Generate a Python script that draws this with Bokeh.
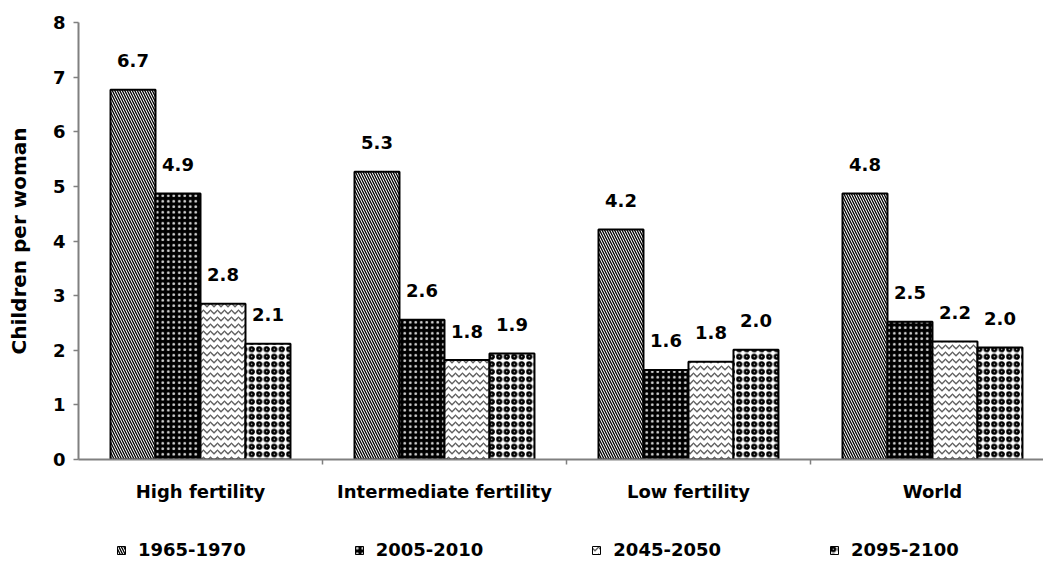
from bokeh.plotting import figure
from bokeh.layouts import column
from bokeh.models import ColumnDataSource, Range1d, FixedTicker, Legend, LegendItem
from bokeh.transform import dodge
from bokeh.core.properties import value
from bokeh.embed import file_html
from bokeh.resources import INLINE

categories = ["High fertility", "Intermediate fertility", "Low fertility", "World"]
periods = ["1965-1970", "2005-2010", "2045-2050", "2095-2100"]
v1965 = [6.77, 5.27, 4.21, 4.87]
v2005 = [4.87, 2.56, 1.64, 2.52]
v2045 = [2.85, 1.82, 1.79, 2.16]
v2095 = [2.12, 1.94, 2.01, 2.05]
lab1965 = ["6.7", "5.3", "4.2", "4.8"]
lab2005 = ["4.9", "2.6", "1.6", "2.5"]
lab2045 = ["2.8", "1.8", "1.8", "2.2"]
lab2095 = ["2.1", "1.9", "2.0", "2.0"]
y_ticks = [0, 1, 2, 3, 4, 5, 6, 7, 8]

FONT = "DejaVu Sans"
GRAY = "#808080"

xs = list(range(len(categories)))
source = ColumnDataSource(dict(
    x=xs, v1965=v1965, v2005=v2005, v2045=v2045, v2095=v2095,
    l1965=lab1965, l2005=lab2005, l2045=lab2045, l2095=lab2095,
))

p = figure(width=1043, height=525, output_backend="svg", toolbar_location=None,
           x_range=Range1d(-0.5, 3.455), y_range=Range1d(0, 8),
           min_border_left=78, min_border_right=0, min_border_top=22, min_border_bottom=66)
p.outline_line_color = None
p.xgrid.visible = False
p.ygrid.visible = False
p.background_fill_color = "white"

bw = 0.1844
offsets = [-1.5 * bw, -0.5 * bw, 0.5 * bw, 1.5 * bw]
styles = [
    dict(fill_color="white", hatch_pattern="left_diagonal_line", hatch_color="black", hatch_scale=5, hatch_weight=1.3),
    dict(fill_color="black", hatch_pattern="dot", hatch_color="#d8d8d8", hatch_scale=5.5, hatch_weight=1.1),
    dict(fill_color="white", hatch_pattern="horizontal_wave", hatch_color="#606060", hatch_scale=7, hatch_weight=1.3),
    dict(fill_color="white", hatch_pattern="ring", hatch_color="black", hatch_scale=7.5, hatch_weight=2.5),
]
keys = ["1965", "2005", "2045", "2095"]
for k, off, st in zip(keys, offsets, styles):
    p.vbar(x=dodge("x", off), top="v" + k, width=bw, bottom=0, source=source,
           line_color="black", line_width=2, **st)
    p.text(x=dodge("x", off), y="v" + k, text="l" + k, source=source,
           text_align="center", text_baseline="alphabetic", y_offset=-29,
           text_font=value(FONT), text_font_style="bold", text_font_size="18px", text_color="black")

# axes
p.yaxis.ticker = FixedTicker(ticks=y_ticks)
p.yaxis.major_tick_out = 5
p.yaxis.major_tick_in = 0
p.yaxis.minor_tick_out = 0
p.yaxis.minor_tick_in = 0
p.yaxis.axis_label = "Children per woman"
p.yaxis.axis_label_text_font = FONT
p.yaxis.axis_label_text_font_style = "bold"
p.yaxis.axis_label_text_font_size = "20px"
p.yaxis.axis_label_text_color = "black"
p.yaxis.axis_label_standoff = 19
p.yaxis.major_label_standoff = 8

p.xaxis.ticker = FixedTicker(ticks=xs, minor_ticks=[0.5, 1.5, 2.5])
p.xaxis.major_label_overrides = {i: c for i, c in zip(xs, categories)}
p.xaxis.major_tick_out = 0
p.xaxis.major_tick_in = 0
p.xaxis.minor_tick_out = 5
p.xaxis.minor_tick_in = 0
p.xaxis.major_label_standoff = 16

for ax in (p.xaxis[0], p.yaxis[0]):
    ax.axis_line_color = GRAY
    ax.axis_line_width = 2
    ax.major_tick_line_color = GRAY
    ax.major_tick_line_width = 1.5
    ax.minor_tick_line_color = GRAY
    ax.minor_tick_line_width = 1.5
    ax.major_label_text_font = FONT
    ax.major_label_text_font_style = "bold"
    ax.major_label_text_font_size = "18px"
    ax.major_label_text_color = "black"

# legend strip below the chart (its data lies outside its ranges; only the legend shows)
lg = figure(width=1043, height=36, output_backend="svg", toolbar_location=None,
            x_axis_type=None, y_axis_type=None, x_range=Range1d(100, 101), y_range=Range1d(100, 101),
            min_border_left=0, min_border_right=0, min_border_top=0, min_border_bottom=0)
lg.outline_line_color = None
lg.xgrid.visible = False
lg.ygrid.visible = False
items = []
for lab, k, st in zip(periods, keys, styles):
    r = lg.vbar(x="x", top="v" + k, width=bw, source=source, line_color="black", line_width=1, **st)
    items.append(LegendItem(label=lab, renderers=[r]))
legend = Legend(items=items, orientation="horizontal", location=(38, 1),
                glyph_width=10, glyph_height=10, label_standoff=12, spacing=108,
                padding=0, margin=0, border_line_color=None, background_fill_alpha=0,
                label_text_font=FONT, label_text_font_style="bold", label_text_font_size="18px",
                label_text_color="black")
lg.add_layout(legend)

open("out.html", "w").write(file_html(column(p, lg, spacing=0), INLINE))
